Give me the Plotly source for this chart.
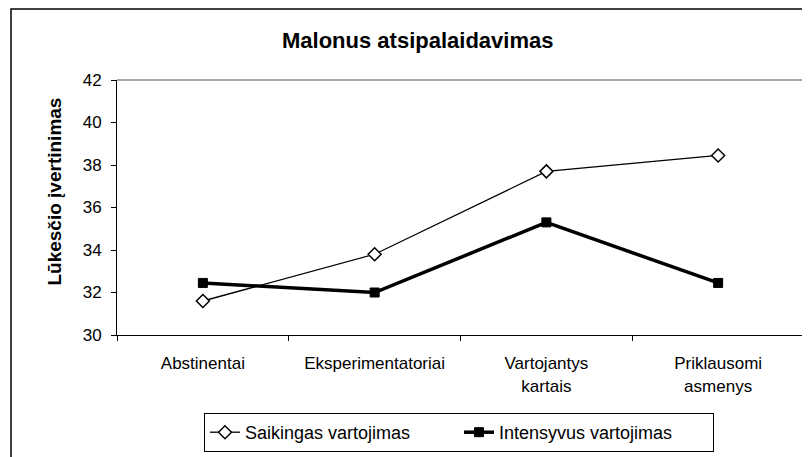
import plotly.graph_objects as go

categories = ["Abstinentai", "Eksperimentatoriai", "Vartojantys<br>kartais", "Priklausomi<br>asmenys"]
saikingas = [31.6, 33.8, 37.7, 38.45]
intensyvus = [32.45, 32.0, 35.3, 32.45]
y_ticks = [30, 32, 34, 36, 38, 40, 42]

# page body has an 8px default margin; work in figure coordinates
OFF = 8
W, H = 810 - OFF, 457 - OFF
L, R, T, B = 117 - OFF, 6, 80 - OFF, 121
pw = W - L - R
ph = H - T - B


def px_x(v):
    return (v - OFF - L) / pw


def px_y(v):
    return (H - B - (v - OFF)) / ph


fig = go.Figure()
fig.add_trace(go.Scatter(
    x=categories, y=saikingas, name="Saikingas vartojimas",
    mode="lines+markers",
    line=dict(color="black", width=1.3),
    marker=dict(symbol="diamond", size=10, color="white", line=dict(color="black", width=1.5)),
))
fig.add_trace(go.Scatter(
    x=categories, y=intensyvus, name="Intensyvus vartojimas",
    mode="lines+markers",
    line=dict(color="black", width=3.5),
    marker=dict(symbol="square", size=9, color="black", line=dict(color="black", width=1)),
))

fig.update_layout(
    width=W, height=H,
    margin=dict(l=L, r=R, t=T, b=B),
    paper_bgcolor="white", plot_bgcolor="white",
    font=dict(family="Liberation Sans, Arial, sans-serif", size=16, color="black"),
    showlegend=True,
    legend=dict(
        orientation="h", x=px_x(204), y=px_y(413), xanchor="left", yanchor="top",
        bordercolor="black", borderwidth=1, bgcolor="white",
        font=dict(size=18), tracegroupgap=0, traceorder="normal",
        entrywidth=209, entrywidthmode="pixels",
    ),
    xaxis=dict(
        showline=True, linecolor="black", linewidth=1,
        ticks="outside", ticklen=5, tickcolor="black", tickson="boundaries",
        showgrid=False, zeroline=False, tickfont=dict(size=17),
        range=[-0.5, 3.5], ticklabelstandoff=13,
    ),
    yaxis=dict(
        range=[30, 42], tickvals=y_ticks, showline=True, linecolor="black", linewidth=1,
        ticks="outside", ticklen=5, tickcolor="black", showgrid=False, zeroline=False,
        tickfont=dict(size=17), ticklabelstandoff=6,
    ),
    annotations=[
        dict(text="<b>Malonus atsipalaidavimas</b>", xref="paper", yref="paper",
             x=px_x(417), y=px_y(40), xanchor="center", yanchor="middle",
             showarrow=False, font=dict(size=22)),
        dict(text="<b>Lūkesčio įvertinimas</b>", xref="paper", yref="paper",
             x=px_x(55), y=px_y(192), xanchor="center", yanchor="middle", textangle=-90,
             showarrow=False, font=dict(size=19)),
    ],
    shapes=[
        dict(type="rect", xref="paper", yref="paper",
             x0=px_x(11), y0=px_y(480), x1=px_x(840), y1=px_y(8.75),
             line=dict(color="black", width=1.5)),
        dict(type="line", xref="paper", yref="paper", x0=0, x1=1, y0=1, y1=1,
             line=dict(color="#888888", width=1.5)),
        dict(type="line", xref="paper", yref="paper", x0=1, x1=1, y0=0, y1=1,
             line=dict(color="#888888", width=1.5)),
    ],
)

fig.write_html("out.html")
